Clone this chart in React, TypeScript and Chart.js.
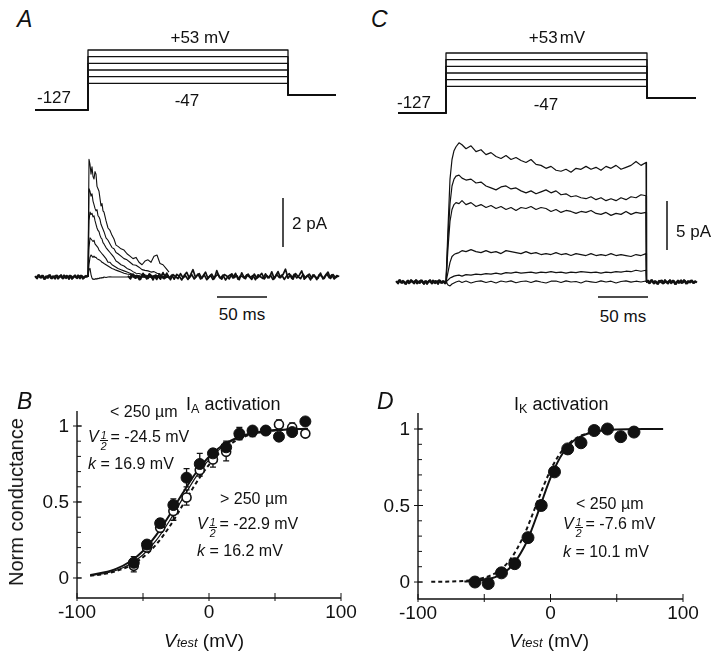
import React, { useEffect, useRef } from 'react';
import { Chart, registerables } from 'chart.js';
Chart.register(...registerables);

const FONT = '"Liberation Sans", Arial, Helvetica, sans-serif';
const INK = '#111';

// ---------- voltage protocol (mV) ----------
const holdingMV = -127;
const stepLevelsMV = [-47, -27, -7, 13, 33, 53];
const postMV = -82;
const protoTimesA = [-53, 0, 200, 248];
const protoTimesC = [-48, 0, 201, 250];

// ---------- panel A currents (pA vs ms) ----------
const tA = [0,1,2,3,4,5,6,7,8,9,10,11,12,13,14,15,16,18,20,22,24,26,28,30,33,36,39,42,45,48,51,54,57,60,63,66,69,72,75,78,81];
const traceA1 = [0,4.8,4.6,4.2,4.5,4.1,4.0,4.3,4.2,3.7,3.6,3.5,3.2,2.9,3.0,2.7,2.65,2.3,2.0,1.9,1.7,1.55,1.3,1.25,1.15,1.1,0.95,0.85,0.75,0.8,0.6,0.5,0.65,0.7,0.6,0.85,0.9,0.55,0.5,0.35,0.2];
const traceA2 = [0,3.6,3.5,3.3,3.4,3.1,2.95,2.8,2.7,2.75,2.5,2.45,2.35,2.15,2.05,1.95,1.85,1.6,1.5,1.35,1.2,1.15,1.0,0.95,0.85,0.75,0.7,0.6,0.5,0.48,0.4,0.3,0.27,0.25,0.2,0.22,0.15,0.12,0.1,0.08,0.05];
const traceA3 = [0,2.3,2.65,2.55,2.6,2.45,2.5,2.3,2.15,2.0,1.9,1.85,1.7,1.6,1.55,1.4,1.35,1.2,1.1,1.0,0.9,0.8,0.65,0.6,0.5,0.45,0.35,0.3,0.22,0.15,0.14,0.1,0.08,0.05,0.06,0.03,0.04,0.0,0.02,0.0,0.0];
const traceA4 = [0,1.2,1.6,1.55,1.5,1.45,1.5,1.35,1.3,1.25,1.2,1.1,1.05,1.0,0.95,0.9,0.85,0.75,0.6,0.6,0.5,0.45,0.4,0.35,0.3,0.25,0.2,0.15,0.1,0.05,0.06,0.02,0.0,0.03,0.0,0.02,0.0,0.01,0.0,0.0,0.0];
const traceA5 = [0,0.5,0.8,0.9,0.85,0.8,0.85,0.8,0.8,0.75,0.72,0.7,0.68,0.65,0.6,0.58,0.55,0.5,0.45,0.4,0.35,0.32,0.28,0.25,0.2,0.15,0.12,0.1,0.06,0.04,0.02,0.0,0.01,0.0,0.0,0.0,0.0,0.0,0.0,0.0,0.0];
const traceA6 = [0,0.3,0.35,0.1,-0.05,-0.1,-0.08,-0.1,-0.06,-0.09,-0.05,-0.07,-0.03,-0.05,-0.02,-0.04,0.0,-0.02,0.0,0.01,0.0,0.0,0.0,0.0,0,0,0,0,0,0,0,0,0,0,0,0,0,0,0,0,0];
const preA = [0.04,-0.06,0.08,-0.03,0.05,-0.08,0.02,0.07,-0.05,0.03,-0.07,0.06,-0.02,0.08,-0.06,0.01,0.05,-0.08,0.04,-0.03,0.07,-0.05,0.02,0.06,-0.07,0.03,0.0];
const preA2 = [-0.05,0.07,-0.02,0.06,-0.08,0.03,-0.04,0.08,-0.06,0.02,0.06,-0.07,0.04,-0.03,0.07,-0.05,0.01,0.06,-0.08,0.03,-0.02,0.07,-0.06,0.04,-0.03,0.05,0.0];
const preAStart = -53, preA2Start = -52, preAStep = 2;
const tailA = [0.05,-0.08,0.12,-0.05,0.02,-0.10,0.15,0.00,-0.06,0.10,
  -0.12,0.08,0.03,-0.09,0.18,-0.04,0.06,-0.11,0.10,0.02,
  -0.07,0.14,-0.03,0.05,-0.10,0.09,0.30,-0.02,0.12,-0.08,
  0.04,0.20,-0.06,0.07,-0.10,0.03,0.11,-0.05,0.08,-0.12,
  0.02,0.10,-0.04,0.15,-0.09,0.05,0.00,-0.07,0.12,-0.02,
  0.06,-0.11,0.09,0.01,-0.06,0.13,-0.04,0.07,-0.10,0.04,
  0.22,-0.03,0.10,0.32,-0.05,0.08,-0.09,0.14,0.02,-0.07,
  0.11,-0.04,0.06,-0.12,0.09,0.00,-0.05,0.16,-0.08,0.07,
  0.20,-0.06,0.10,-0.03,0.04];
const tailA2 = [-0.06,0.10,-0.02,0.07,-0.11,0.04,0.09,-0.08,0.13,-0.03,
  0.06,-0.10,0.12,0.00,-0.07,0.16,-0.05,0.08,-0.09,0.11,
  0.03,-0.12,0.07,0.19,-0.04,0.10,-0.08,0.05,0.14,-0.06,
  0.09,-0.11,0.02,0.12,-0.07,0.26,0.00,-0.09,0.10,0.04,
  -0.08,0.13,-0.02,0.06,-0.11,0.17,-0.04,0.09,0.01,-0.10,
  0.12,-0.05,0.03,0.15,-0.08,0.06,-0.03,0.21,-0.07,0.10,
  -0.02,0.08,-0.10,0.05,0.14,-0.06,0.11,-0.04,0.07,0.25,
  -0.09,0.04,0.12,-0.05,0.08,-0.11,0.10,0.03,-0.06,0.13,
  -0.03,0.09,-0.08,0.06,0.02];
const tailAStart = 40, tailA2Start = 41.25, tailAStep = 2.5;

// ---------- panel C currents (pA vs ms) ----------
const tC = [0,2,4,6,8,10,13,16,20,25,30,35,40,45,50,55,60,65,70,75,80,85,90,95,100,105,110,115,120,125,130,135,140,145,150,155,160,165,170,175,180,185,190,195,200];
const traceC1 = [0,5.5,10.5,12.5,13.4,13.8,14.2,14.0,13.6,13.9,13.3,13.5,13.0,13.2,12.8,12.6,12.9,12.5,12.7,12.4,12.2,12.5,12.0,11.9,11.6,11.8,11.4,11.3,11.5,11.2,11.6,11.5,11.8,11.5,11.7,11.4,11.8,11.6,11.9,11.5,11.7,11.9,12.3,11.9,12.2];
const traceC2 = [0,4.5,8.0,9.8,10.5,10.8,10.9,10.6,10.4,10.5,10.1,10.2,9.8,9.6,9.4,9.7,9.8,9.5,9.6,9.3,9.1,9.3,9.0,9.2,9.4,9.1,9.3,8.9,9.0,8.7,8.8,8.6,8.5,8.7,8.4,8.6,8.3,8.5,8.3,8.6,8.4,8.7,8.6,8.9,8.8];
const traceC3 = [0,3.5,6.2,7.4,7.9,8.1,8.0,8.3,7.9,8.1,7.7,7.9,7.6,7.8,7.5,7.7,7.4,7.6,7.3,7.6,7.5,7.7,7.4,7.6,7.5,7.2,7.4,7.1,7.3,7.2,7.0,7.2,7.1,7.3,7.0,6.9,7.1,6.8,7.0,6.9,7.2,6.9,7.1,7.0,7.1];
const traceC4 = [0,1.0,2.0,2.6,2.8,2.9,3.0,3.2,3.1,3.3,3.1,3.0,3.2,3.0,3.1,2.9,3.2,3.1,3.0,2.9,3.1,2.9,3.0,2.8,2.9,2.8,3.0,2.8,2.9,2.7,2.9,2.8,2.7,2.9,2.7,2.8,2.7,2.9,2.7,2.8,2.7,2.6,2.8,2.7,2.9];
const traceC5 = [0,0.2,0.4,0.5,0.6,0.65,0.7,0.6,0.75,0.7,0.8,0.75,0.85,0.8,0.9,0.8,0.95,0.9,1.0,0.9,0.95,1.0,0.9,1.0,0.95,1.05,0.95,1.0,0.9,1.0,0.95,1.05,1.0,0.95,1.0,0.9,1.0,0.95,1.05,1.0,1.1,1.05,1.2,1.1,1.2];
const traceC6 = [0,-0.3,-0.4,-0.2,-0.1,0.0,0.1,-0.05,0.1,-0.1,0.05,0.12,-0.05,0.08,-0.1,0.1,0.0,0.12,-0.08,0.05,0.1,-0.05,0.12,0.0,-0.1,0.08,0.1,-0.05,0.12,0.0,0.05,-0.1,0.1,0.02,-0.05,0.12,0.0,0.08,-0.1,0.05,0.12,-0.02,0.08,0.0,0.1];
const preC = [0.1,-0.15,0.2,-0.1,0.05,-0.2,0.15,-0.05,0.1,-0.15,0.2,0.0,-0.1,0.15,-0.2,0.1,-0.05,0.2,-0.15,0.05,0.1,-0.2,0.15,-0.1,0.05,0.0];
const preC2 = [-0.1,0.18,-0.05,0.12,-0.18,0.08,-0.12,0.2,-0.02,0.1,-0.15,0.05,0.18,-0.1,0.08,-0.2,0.12,-0.05,0.15,-0.12,0.02,0.18,-0.08,0.1,-0.15,0.0];
const preCStart = -50, preC2Start = -49, preCStep = 2;
const postC = [0.0,0.15,-0.1,0.2,-0.15,0.05,-0.2,0.1,0.15,-0.1,0.05,-0.15,0.2,-0.05,0.1,-0.2,0.15,0.0,-0.1,0.2,-0.15,0.1,-0.05,0.15,-0.1,0.05];
const postC2 = [0.1,-0.12,0.18,-0.05,0.1,-0.18,0.12,-0.02,-0.15,0.2,-0.08,0.1,-0.12,0.15,-0.2,0.05,-0.1,0.18,-0.05,0.12,-0.15,0.02,0.15,-0.1,0.08,-0.05];
const postCStart = 200, postC2Start = 201, postCStep = 2;

// scale bars (data units)
const barA = { t: 195, pAFrom: 1.22, pA: 2, msFrom: 129, ms: 50, msAt: -0.82 };
const barC = { t: 221, pAFrom: 3.27, pA: 5, msFrom: 152, ms: 50, msAt: -1.53 };

// ---------- panel B: IA activation ----------
const vTestB = [-57,-47,-37,-27,-17,-7,3,13,23,33,43,53,63,73];
const gSmallB = [0.10,0.22,0.36,0.48,0.66,0.75,0.82,0.86,0.95,0.97,0.97,0.93,0.96,1.03];
const errSmallB = [0.04,0.02,0.03,0.04,0.06,0.07,0.03,0.04,0.04,0.02,0.02,0.02,0.02,0.02];
const gLargeB = [0.08,0.20,0.33,0.44,0.53,0.71,0.78,0.83,0.94,0.96,0.97,1.01,0.99,0.95];
const errLargeB = [0.04,0.02,0.03,0.06,0.05,0.04,0.05,0.06,0.03,0.03,0.02,0.03,0.03,0.02];
const fitVB = [-90,-80,-70,-60,-50,-40,-30,-20,-10,0,10,20,30,40,50,60,70,75];
const fitSmallB = [0.02,0.036,0.062,0.107,0.178,0.282,0.413,0.557,0.691,0.798,0.872,0.919,0.948,0.963,0.973,0.978,0.981,0.982];
const fitLargeB = [0.016,0.028,0.051,0.09,0.153,0.247,0.375,0.522,0.664,0.779,0.861,0.913,0.945,0.962,0.972,0.978,0.981,0.981];
const fitDashB = [0.015,0.026,0.046,0.08,0.137,0.22,0.337,0.478,0.622,0.745,0.84,0.902,0.94,0.96,0.971,0.977,0.98,0.98];

// ---------- panel D: IK activation ----------
const vTestD = [-57,-47,-37,-27,-17,-7,3,13,23,33,43,53,63];
const gD = [0.0,-0.01,0.06,0.12,0.29,0.50,0.72,0.87,0.91,0.99,1.0,0.95,0.98];
const errD = [0.01,0.01,0.02,0.02,0.03,0.03,0.02,0.02,0.02,0.01,0.01,0.01,0.01];
const fitVDSolid = [-65,-60,-50,-40,-30,-20,-15,-10,-5,0,5,10,15,20,30,40,50,60,70,85];
const fitDSolid = [0.003,0.006,0.015,0.039,0.098,0.227,0.325,0.441,0.564,0.68,0.777,0.851,0.904,0.939,0.976,0.991,0.997,0.999,1.0,1.0];
const fitVDDash = [-90,-80,-70,-60,-50,-40,-30,-20,-15,-10,-5,0,5,10,20,30,40];
const fitDDash = [0.001,0.002,0.005,0.012,0.028,0.067,0.151,0.306,0.41,0.523,0.633,0.731,0.811,0.871,0.944,0.976,0.99];

// axis ticks for B and D
const xTickVals = [-100,-50,0,50,100];
const xTickLabels = ['-100','','0','','100'];
const yMinorTicks = [0,0.1,0.2,0.3,0.4,0.5,0.6,0.7,0.8,0.9,1];
const yMajorTicks = [0,0.5,1];
const yMajorLabels = ['0','0.5','1'];

// ---------- helpers ----------
const xy = (xs: number[], ys: number[]) => xs.map((x, i) => ({ x, y: ys[i] }));
const stepSeries = (start: number, step: number, ys: number[]) => ys.map((y, i) => ({ x: start + i * step, y }));
const protocolData = (times: number[], level: number) => {
  const [t0, on, off, end] = times;
  return [
    { x: t0, y: holdingMV }, { x: on, y: holdingMV }, { x: on, y: level },
    { x: off, y: level }, { x: off, y: postMV }, { x: end, y: postMV },
  ];
};
const lineDs = (data: any[], width = 1, dash: number[] = [], extra: any = {}) => ({
  data, borderColor: INK, borderWidth: width, borderDash: dash, pointRadius: 0,
  tension: 0, fill: false, borderJoinStyle: 'round', clip: false, order: 5, ...extra,
});
const baseOptions = (xmin: number, xmax: number, ymin: number, ymax: number, padding: any = 0, plugins: any = {}) => ({
  responsive: false,
  animation: false,
  events: [],
  layout: { padding },
  plugins: { legend: { display: false }, tooltip: { enabled: false }, ...plugins },
  scales: {
    x: { type: 'linear', display: false, min: xmin, max: xmax },
    y: { type: 'linear', display: false, min: ymin, max: ymax },
  },
});

const sciAxes = {
  id: 'sciAxes',
  afterDraw(chart: any, _args: any, opts: any) {
    if (!opts || !opts.on) return;
    const { ctx, chartArea } = chart;
    const { left, right, top, bottom } = chartArea;
    const xs = chart.scales.x, ys = chart.scales.y;
    ctx.save();
    ctx.strokeStyle = INK;
    ctx.lineWidth = 1.4;
    ctx.beginPath();
    ctx.moveTo(left, top);
    ctx.lineTo(left, bottom);
    ctx.lineTo(right, bottom);
    ctx.stroke();
    ctx.lineWidth = 1;
    ctx.beginPath();
    yMinorTicks.forEach((v) => { const p = ys.getPixelForValue(v); ctx.moveTo(left, p); ctx.lineTo(left + 4, p); });
    yMajorTicks.forEach((v) => { const p = ys.getPixelForValue(v); ctx.moveTo(left - 4, p); ctx.lineTo(left + 5, p); });
    xTickVals.forEach((v) => { const p = xs.getPixelForValue(v); ctx.moveTo(p, bottom + 3); ctx.lineTo(p, bottom - 5); });
    ctx.stroke();
    ctx.fillStyle = INK;
    ctx.font = `19px ${FONT}`;
    ctx.textAlign = 'right';
    ctx.textBaseline = 'middle';
    yMajorTicks.forEach((v, i) => ctx.fillText(yMajorLabels[i], left - 8, ys.getPixelForValue(v) + 1));
    ctx.textAlign = 'center';
    ctx.textBaseline = 'alphabetic';
    xTickVals.forEach((v, i) => { if (xTickLabels[i]) ctx.fillText(xTickLabels[i], xs.getPixelForValue(v), bottom + 20); });
    ctx.restore();
  },
};

const errorBars = {
  id: 'errorBars',
  beforeDatasetsDraw(chart: any) {
    const { ctx } = chart;
    const ys = chart.scales.y;
    chart.data.datasets.forEach((ds: any, i: number) => {
      if (!ds.errors) return;
      const meta = chart.getDatasetMeta(i);
      ctx.save();
      ctx.strokeStyle = INK;
      ctx.lineWidth = 1.3;
      meta.data.forEach((pt: any, j: number) => {
        const v = ds.data[j].y, e = ds.errors[j];
        const y1 = ys.getPixelForValue(v + e), y2 = ys.getPixelForValue(v - e);
        ctx.beginPath();
        ctx.moveTo(pt.x, y1); ctx.lineTo(pt.x, y2);
        ctx.moveTo(pt.x - 3, y1); ctx.lineTo(pt.x + 3, y1);
        ctx.moveTo(pt.x - 3, y2); ctx.lineTo(pt.x + 3, y2);
        ctx.stroke();
      });
      ctx.restore();
    });
  },
};

function ChartBox({ left, top, width, height, make }: any) {
  const ref = useRef<HTMLCanvasElement>(null);
  useEffect(() => {
    const c = new Chart(ref.current as any, make());
    return () => c.destroy();
  }, []);
  return <canvas ref={ref} width={width} height={height} style={{ position: 'absolute', left, top, width, height }} />;
}

function T({ x, y, size = 17, align = 'left', italic = false, children, style = {} }: any) {
  const s: any = {
    position: 'absolute', left: x, top: y - 0.85 * size, fontSize: size, lineHeight: `${size}px`,
    fontFamily: FONT, color: INK, whiteSpace: 'nowrap', fontStyle: italic ? 'italic' : 'normal', ...style,
  };
  if (align === 'center') s.transform = 'translateX(-50%)';
  if (align === 'right') s.transform = 'translateX(-100%)';
  return <div style={s}>{children}</div>;
}

function VHalf() {
  return (
    <>
      <i>V</i>
      <span style={{ display: 'inline-block', verticalAlign: '-0.75em', fontSize: '0.66em', lineHeight: '0.95em', textAlign: 'center', margin: '0 3px 0 1px' }}>
        <span style={{ display: 'block', borderBottom: `1px solid ${INK}`, fontStyle: 'italic', padding: '0 1px' }}>1</span>
        <span style={{ display: 'block', fontStyle: 'italic' }}>2</span>
      </span>
    </>
  );
}

function Vtest() {
  return (<><i>V</i><i style={{ fontSize: '0.68em' }}>test</i> (mV)</>);
}

// ---------- chart configs ----------
const makeProtocol = (times: number[], xmin: number, xmax: number) => () => ({
  type: 'line',
  data: { datasets: stepLevelsMV.map((L) => lineDs(protocolData(times, L), 1.3)) },
  options: baseOptions(xmin, xmax, -142, 68),
});

const makeTracesA = () => ({
  type: 'line',
  data: {
    datasets: [
      lineDs(stepSeries(preAStart, preAStep, preA), 2),
      lineDs(stepSeries(preA2Start, preAStep, preA2), 1.8),
      lineDs(stepSeries(tailAStart, tailAStep, tailA), 1.7),
      lineDs(stepSeries(tailA2Start, tailAStep, tailA2), 1.7),
      ...[traceA1, traceA2, traceA3, traceA4, traceA5, traceA6].map((tr) => lineDs(xy(tA, tr), 1.1)),
      lineDs([{ x: barA.t, y: barA.pAFrom }, { x: barA.t, y: barA.pAFrom + barA.pA }], 1.5),
      lineDs([{ x: barA.msFrom, y: barA.msAt }, { x: barA.msFrom + barA.ms, y: barA.msAt }], 1.5),
    ],
  },
  options: baseOptions(-58, 262, -1.143, 5.592),
});

const makeTracesC = () => ({
  type: 'line',
  data: {
    datasets: [
      lineDs(stepSeries(preCStart, preCStep, preC), 2),
      lineDs(stepSeries(preC2Start, preCStep, preC2), 2),
      lineDs(stepSeries(postCStart, postCStep, postC), 2),
      lineDs(stepSeries(postC2Start, postCStep, postC2), 2),
      ...[traceC1, traceC2, traceC3, traceC4, traceC5, traceC6].map((tr) =>
        lineDs([...xy(tC, tr), { x: 200.5, y: 0 }], 1.2)),
      lineDs([{ x: barC.t, y: barC.pAFrom }, { x: barC.t, y: barC.pAFrom + barC.pA }], 1.5),
      lineDs([{ x: barC.msFrom, y: barC.msAt }, { x: barC.msFrom + barC.ms, y: barC.msAt }], 1.5),
    ],
  },
  options: baseOptions(-58, 260, -2.347, 15.0),
});

const pointDs = (xs: number[], ys: number[], errs: number[], open: boolean, r: number, order: number) => ({
  data: xy(xs, ys), errors: errs, showLine: false, clip: false, order,
  pointRadius: r, pointBackgroundColor: open ? '#fff' : INK, pointBorderColor: INK,
  pointBorderWidth: open ? 1.6 : 1,
});

const makeB = () => ({
  type: 'line',
  data: {
    datasets: [
      pointDs(vTestB, gSmallB, errSmallB, false, 5.5, 0),
      pointDs(vTestB, gLargeB, errLargeB, true, 4.5, 1),
      lineDs(xy(fitVB, fitSmallB), 2, [], { cubicInterpolationMode: 'monotone', order: 3 }),
      lineDs(xy(fitVB, fitLargeB), 1.2, [], { cubicInterpolationMode: 'monotone', order: 3 }),
      lineDs(xy(fitVB, fitDashB), 2, [4, 3], { cubicInterpolationMode: 'monotone', order: 3 }),
    ],
  },
  options: baseOptions(-100, 100, -0.1316, 1.0987, { left: 77, right: 22, top: 21, bottom: 73 }, { sciAxes: { on: true } }),
  plugins: [sciAxes, errorBars],
});

const makeD = () => ({
  type: 'line',
  data: {
    datasets: [
      pointDs(vTestD, gD, errD, false, 6, 0),
      lineDs(xy(fitVDSolid, fitDSolid), 2, [], { cubicInterpolationMode: 'monotone', order: 3 }),
      lineDs(xy(fitVDDash, fitDDash), 2, [4, 3], { cubicInterpolationMode: 'monotone', order: 3 }),
    ],
  },
  options: baseOptions(-100, 100, -0.111, 1.1046, { left: 55, right: 43, top: 23, bottom: 72 }, { sciAxes: { on: true } }),
  plugins: [sciAxes, errorBars],
});

export default function App() {
  return (
    <div style={{ position: 'absolute', left: 0, top: 0, width: 726, height: 671, background: '#fff', overflow: 'hidden' }}>
      <ChartBox left={30} top={45} width={310} height={70} make={makeProtocol(protoTimesA, -58, 252)} />
      <ChartBox left={388} top={48} width={318} height={70} make={makeProtocol(protoTimesC, -58, 260)} />
      <ChartBox left={30} top={140} width={320} height={165} make={makeTracesA} />
      <ChartBox left={388} top={135} width={318} height={170} make={makeTracesC} />
      <ChartBox left={0} top={390} width={363} height={281} make={makeB} />
      <ChartBox left={363} top={390} width={363} height={281} make={makeD} />

      {/* panel letters */}
      <T x={17} y={28} size={23} italic>A</T>
      <T x={371} y={28} size={23} italic>C</T>
      <T x={17} y={410} size={23} italic>B</T>
      <T x={377} y={410} size={23} italic>D</T>

      {/* protocol labels */}
      <T x={200} y={43} size={17} align="center">+53 mV</T>
      <T x={54} y={103} size={17} align="center">-127</T>
      <T x={187} y={106} size={17} align="center">-47</T>
      <T x={557} y={43} size={17} align="center">+53<span style={{ marginLeft: 2 }}>mV</span></T>
      <T x={414} y={108} size={17} align="center">-127</T>
      <T x={546} y={110} size={17} align="center">-47</T>

      {/* scale bar labels */}
      <T x={292} y={229} size={17}>2 pA</T>
      <T x={676} y={237} size={17}>5 pA</T>
      <T x={242} y={320} size={17} align="center">50 ms</T>
      <T x={623} y={322} size={17} align="center">50 ms</T>

      {/* titles */}
      <T x={186} y={410} size={18}>I<span style={{ fontSize: '0.7em', verticalAlign: '-0.25em' }}>A</span> activation</T>
      <T x={514} y={410} size={18}>I<span style={{ fontSize: '0.7em', verticalAlign: '-0.25em' }}>K</span> activation</T>

      {/* axis titles */}
      <div style={{ position: 'absolute', left: 16, top: 502, transform: 'translate(-50%,-50%) rotate(-90deg)', fontFamily: FONT, fontSize: 20, lineHeight: '20px', whiteSpace: 'nowrap', color: INK }}>Norm conductance</div>
      <T x={204} y={647} size={19} align="center"><Vtest /></T>
      <T x={549} y={647} size={19} align="center"><Vtest /></T>

      {/* B annotations */}
      <T x={110} y={418} size={16}>&lt; 250 µm</T>
      <T x={88} y={443} size={16}><VHalf />= -24.5 mV</T>
      <T x={88} y={470} size={16}><i>k</i> = 16.9 mV</T>
      <T x={220} y={505} size={16}>&gt; 250 µm</T>
      <T x={197} y={530} size={16}><VHalf />= -22.9 mV</T>
      <T x={197} y={557} size={16}><i>k</i> = 16.2 mV</T>

      {/* D annotations */}
      <T x={576} y={510} size={16}>&lt; 250 µm</T>
      <T x={563} y={530} size={16}><VHalf />= -7.6 mV</T>
      <T x={563} y={558} size={16}><i>k</i> = 10.1 mV</T>
    </div>
  );
}
